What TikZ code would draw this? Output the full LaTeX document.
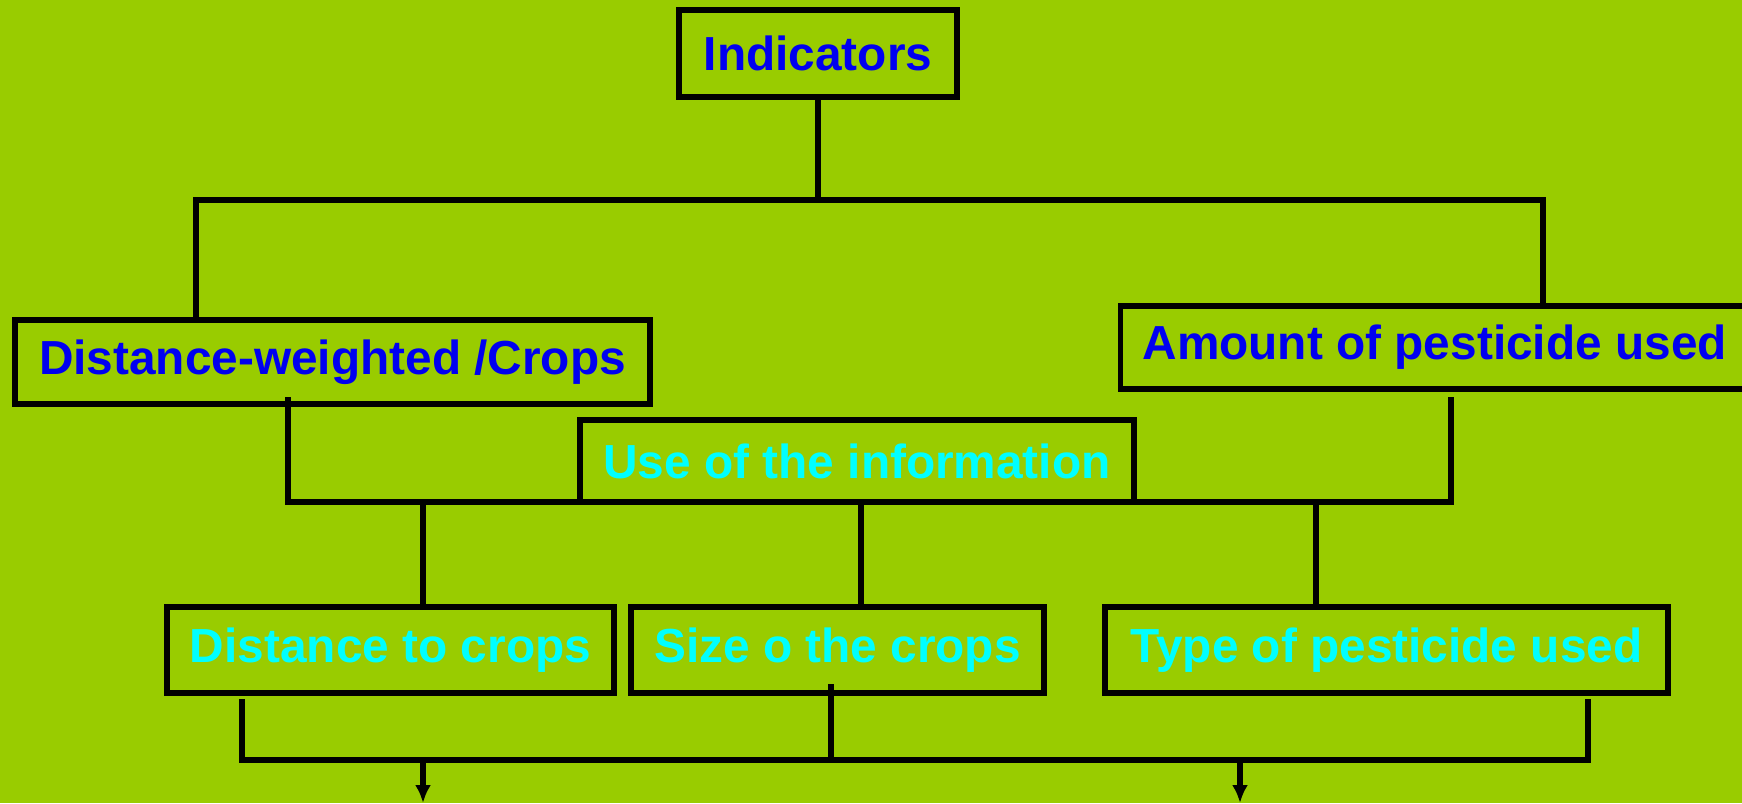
\documentclass[tikz,border=0pt]{standalone}
\usepackage{fontspec}
\setmainfont{Liberation Sans}
\usetikzlibrary{arrows.meta}
\definecolor{bggreen}{RGB}{153,204,0}
\definecolor{txtblue}{RGB}{0,0,240}
\definecolor{txtcyan}{RGB}{0,255,255}
\tikzset{
    mynodeb/.style = {rectangle, line width=1.45pt, draw=black, align=center, inner sep=0pt, minimum height=0.85cm, font=\bfseries\fontsize{13.6}{16}\selectfont, text=txtblue},
    mynodec/.style = {rectangle, line width=1.45pt, draw=black, align=center, inner sep=0pt, minimum height=0.85cm, font=\bfseries\fontsize{13.6}{16}\selectfont, text=txtcyan},
    edgen/.style = {-, line width=1.45pt, black},
    edgea/.style = {-{Latex[length=0.18cm,width=0.16cm]}, line width=1.45pt, black},
}
\begin{document}
\begin{tikzpicture}
\useasboundingbox (0,0) rectangle (17.42,-8.03);
\clip (0,0) rectangle (17.42,-8.03);
\fill[bggreen] (0,0) rectangle (17.42,-8.03);
%
\node[mynodeb, minimum width=2.78cm, minimum height=0.87cm] at (8.18,-0.535) (ind) {Indicators};
\node[mynodeb, minimum width=6.35cm, minimum height=0.84cm] at (3.325,-3.62) (dw) {Distance-weighted /Crops};
\node[mynodeb, anchor=west, inner xsep=0.22cm, minimum height=0.83cm] at (11.18,-3.475) (amt) {Amount of pesticide used};
\node[mynodec, minimum width=5.54cm, minimum height=0.82cm] at (8.57,-4.61) (use) {Use of the information};
\node[mynodec, minimum width=4.47cm, minimum height=0.86cm] at (3.905,-6.50) (dist) {Distance to crops};
\node[mynodec, minimum width=4.13cm, minimum height=0.86cm] at (8.375,-6.50) (size) {Size o the crops};
\node[mynodec, minimum width=5.63cm, minimum height=0.86cm] at (13.865,-6.50) (type) {Type of pesticide used};
%
\coordinate (tl) at (1.96,-2.00);
\coordinate (tr) at (15.43,-2.00);
\coordinate (ml0) at (2.88,-3.97);
\coordinate (mr0) at (14.51,-3.97);
\coordinate (ml) at (2.88,-5.02);
\coordinate (mr) at (14.51,-5.02);
\coordinate (d1) at (4.23,-5.02);
\coordinate (d2) at (8.61,-5.02);
\coordinate (d3) at (13.16,-5.02);
\coordinate (bl0) at (2.42,-6.99);
\coordinate (bm0) at (8.31,-6.84);
\coordinate (br0) at (15.88,-6.99);
\coordinate (bl) at (2.42,-7.60);
\coordinate (bm) at (8.31,-7.60);
\coordinate (br) at (15.88,-7.60);
\coordinate (a1) at (4.23,-7.60);
\coordinate (a2) at (12.40,-7.60);
\coordinate (e1) at (4.23,-8.03);
\coordinate (e2) at (12.40,-8.03);
%
\draw[edgen] (ind.south) -- (ind.south |- tl);
\draw[edgen] (dw.north -| tl) -- (tl) -- (tr) -- (amt.north -| tr);
\draw[edgen] (ml0) -- (ml) -- (mr) -- (mr0);
\draw[edgen] (d1) -- (d1 |- dist.north);
\draw[edgen] (d2) -- (d2 |- size.north);
\draw[edgen] (d3) -- (d3 |- type.north);
\draw[edgen] (bl0) -- (bl) -- (br) -- (br0);
\draw[edgen] (bm0) -- (bm);
\draw[edgea] (a1) -- (e1);
\draw[edgea] (a2) -- (e2);
\end{tikzpicture}
\end{document}
